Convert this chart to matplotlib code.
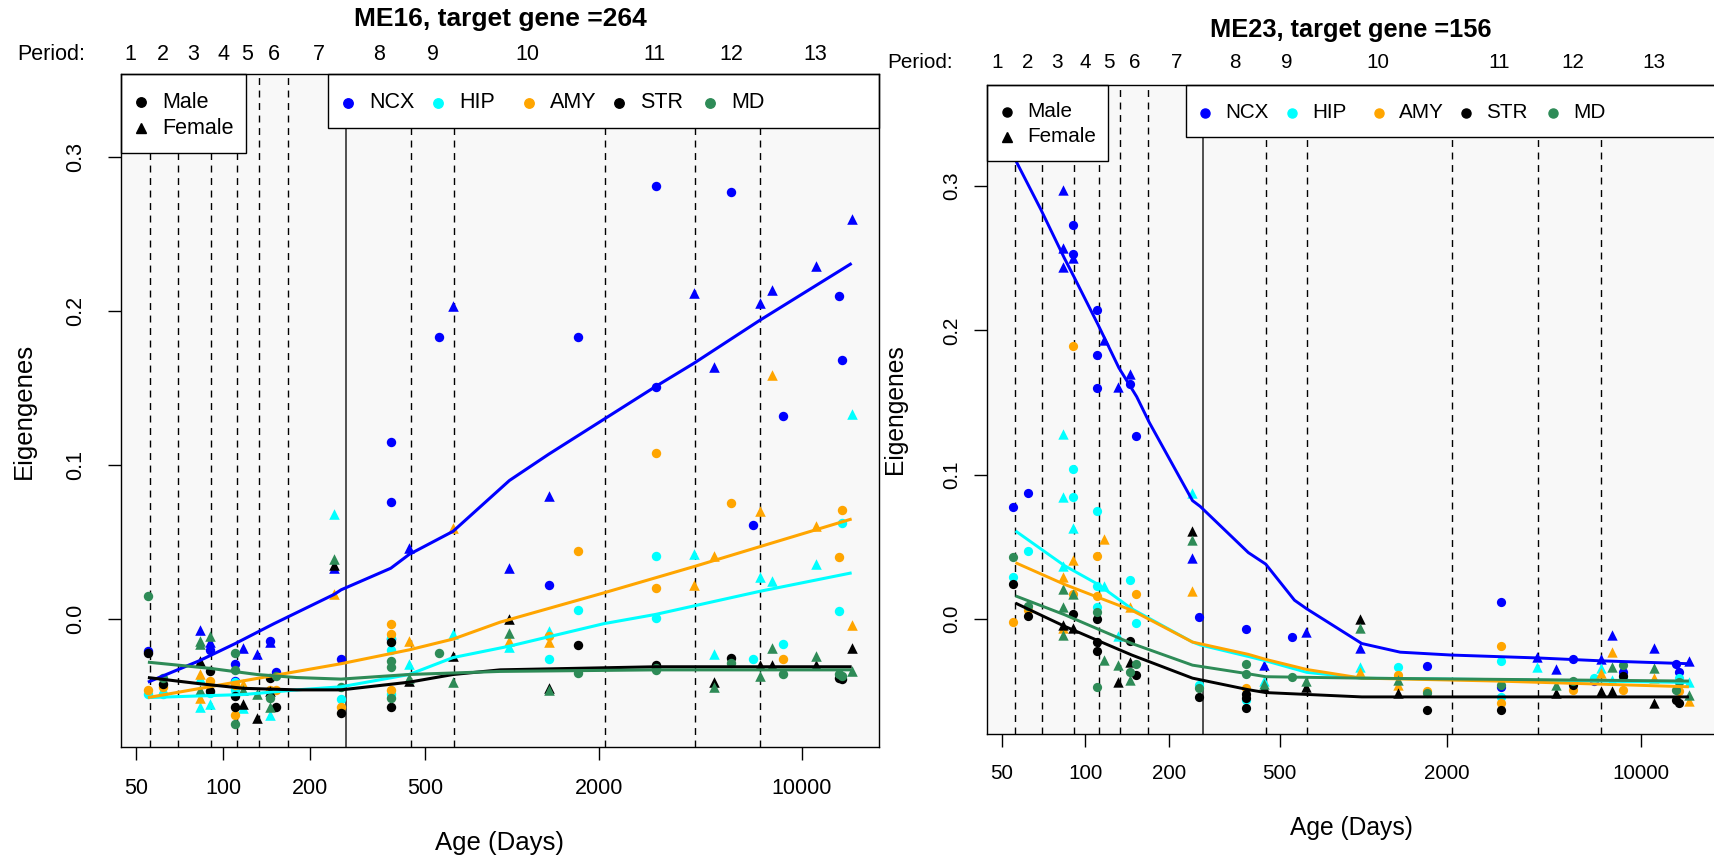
# Eigengene trajectories for two modules (ME16, ME23) across brain regions

import numpy as np
import matplotlib.pyplot as plt
from matplotlib.patches import Rectangle
from matplotlib.transforms import blended_transform_factory

plt.rcParams['font.family'] = ['Liberation Sans', 'DejaVu Sans']

nan = np.nan

regions = ['NCX', 'HIP', 'AMY', 'STR', 'MD']
region_colors = ['#0000FF', '#00FFFF', '#FFA500', '#000000', '#2E8B57']

# one entry per brain: age in days post conception and sex
ages = [55, 62, 83, 83, 83, 90, 90, 90, 110, 110, 110, 117, 131, 145, 145, 152,
        242, 256, 380, 380, 380, 440, 556, 624, 977, 1334, 1334, 1692, 3125, 3125,
        4230, 4960, 5680, 6770, 7160, 7870, 8600, 11170, 13420, 13740, 14880]
sex = ['M', 'M', 'F', 'F', 'F', 'M', 'M', 'F', 'M', 'M', 'M', 'F', 'F', 'M', 'F', 'M',
       'F', 'M', 'M', 'M', 'M', 'F', 'M', 'F', 'F', 'M', 'F', 'M', 'M', 'M',
       'F', 'F', 'M', 'M', 'F', 'F', 'M', 'F', 'M', 'M', 'F']

# ME16 eigengene values per region (nan = not shown)
me16_ncx = [-0.021, nan, -0.007, nan, nan, -0.020, nan, -0.015, -0.029, -0.040, nan, -0.019, -0.023, -0.014, -0.015, -0.0345,
            0.033, -0.026, 0.115, 0.076, -0.013, 0.046, 0.1835, 0.203, 0.033, 0.022, 0.080, 0.1835, 0.281, 0.151,
            0.212, 0.164, 0.2775, 0.061, 0.205, 0.214, 0.132, 0.229, 0.2095, 0.168, 0.260]
me16_hip = [-0.049, -0.049, -0.038, -0.057, nan, -0.048, nan, -0.055, -0.041, -0.046, nan, -0.058, nan, nan, -0.062, nan,
            0.068, -0.052, -0.012, -0.020, -0.049, -0.029, nan, -0.010, -0.018, -0.026, -0.008, 0.006, 0.041, 0.001,
            0.042, -0.023, nan, -0.026, 0.027, 0.025, -0.016, 0.0355, 0.005, 0.0625, 0.133]
me16_amy = [-0.046, -0.044, -0.036, -0.051, nan, -0.040, nan, nan, -0.043, -0.062, nan, -0.042, nan, -0.046, nan, -0.046,
            0.016, -0.057, -0.003, -0.010, -0.046, -0.014, nan, 0.059, -0.014, -0.011, -0.015, 0.044, 0.108, 0.020,
            0.022, 0.041, 0.0755, nan, 0.0705, 0.1585, -0.026, 0.0605, 0.040, 0.071, -0.004]
me16_str = [-0.022, -0.042, -0.027, nan, nan, -0.034, -0.047, nan, -0.050, -0.057, nan, -0.055, -0.064, -0.038, -0.047, -0.057,
            0.035, -0.061, -0.015, nan, -0.057, -0.040, nan, -0.024, 0.000, nan, -0.045, -0.017, -0.030, -0.031,
            nan, -0.041, -0.025, nan, -0.030, -0.030, nan, -0.030, -0.038, -0.039, -0.019]
me16_md = [0.015, -0.038, -0.014, -0.046, -0.016, nan, nan, -0.011, -0.022, -0.068, -0.033, -0.046, -0.049, -0.051, -0.057, -0.037,
           0.039, -0.044, -0.027, -0.031, -0.051, -0.038, -0.022, -0.041, -0.009, nan, -0.046, -0.035, -0.032, -0.033,
           nan, -0.044, -0.0285, nan, -0.037, -0.0185, -0.036, -0.024, -0.036, -0.037, -0.0335]

# ME23 eigengene values per region
me23_ncx = [0.0776, 0.0876, 0.297, 0.257, 0.244, 0.273, 0.253, 0.250, 0.214, 0.183, 0.160, 0.193, 0.161, 0.163, 0.170, 0.1265,
            0.042, 0.0015, -0.007, nan, nan, -0.032, -0.0126, -0.009, -0.020, nan, nan, -0.0326, 0.0116, -0.047,
            -0.026, -0.035, -0.028, -0.043, -0.028, -0.011, -0.037, -0.020, -0.031, -0.037, -0.029]
me23_hip = [0.029, 0.047, 0.1285, 0.0845, 0.037, 0.104, 0.0845, 0.063, 0.0745, 0.023, 0.008, 0.023, -0.012, 0.027, nan, -0.003,
            0.087, -0.046, nan, -0.056, nan, -0.043, nan, nan, -0.033, -0.033, nan, nan, -0.029, -0.054,
            -0.033, nan, nan, -0.041, -0.034, -0.042, -0.041, nan, nan, -0.041, -0.044]
me23_amy = [-0.002, 0.006, 0.029, -0.006, nan, 0.189, 0.017, 0.041, 0.0436, 0.016, nan, 0.0555, nan, nan, 0.008, 0.017,
            0.0196, nan, -0.048, nan, nan, nan, nan, nan, -0.0365, -0.039, -0.046, -0.050, -0.0185, -0.058,
            nan, nan, -0.049, nan, -0.0375, -0.023, -0.049, -0.041, nan, -0.050, -0.057]
me23_str = [0.024, 0.002, -0.004, nan, nan, 0.0035, nan, -0.006, 0.0003, -0.016, -0.022, nan, -0.044, -0.015, -0.030, -0.039,
            0.061, -0.054, -0.052, -0.055, -0.062, -0.047, nan, -0.047, 0.000, nan, -0.051, -0.063, nan, -0.063,
            nan, -0.051, -0.046, nan, -0.050, -0.050, -0.0395, -0.058, -0.056, -0.058, nan]
me23_md = [0.043, 0.009, 0.021, 0.008, -0.011, nan, nan, 0.017, 0.005, -0.047, nan, -0.0285, -0.032, -0.037, -0.0425, -0.031,
           0.055, -0.048, -0.031, -0.038, nan, -0.045, -0.040, -0.043, -0.0064, nan, -0.042, -0.051, -0.046, nan,
           nan, -0.0457, -0.043, nan, nan, -0.0335, -0.032, -0.034, -0.049, -0.044, -0.053]

# smoothed trend lines (age, value)
me16_ncx_fit = ([55, 83, 110, 150, 242, 256, 380, 440, 624, 977, 1334, 3125, 4230, 7160, 14880],
                [-0.041, -0.027, -0.016, -0.003, 0.016, 0.019, 0.033, 0.042, 0.057, 0.090, 0.107, 0.151, 0.166, 0.194, 0.231])
me16_hip_fit = ([55, 118, 180, 256, 440, 624, 977, 2070, 3125, 7160, 14880],
                [-0.051, -0.049, -0.046, -0.044, -0.036, -0.025, -0.0176, -0.003, 0.003, 0.018, 0.030])
me16_amy_fit = ([55, 256, 440, 624, 908, 2070, 4230, 7160, 14880],
                [-0.051, -0.029, -0.020, -0.013, -0.002, 0.017, 0.034, 0.047, 0.065])
me16_str_fit = ([55, 83, 118, 180, 256, 440, 624, 908, 3125, 14880],
                [-0.038, -0.042, -0.045, -0.046, -0.046, -0.041, -0.036, -0.033, -0.031, -0.031])
me16_md_fit = ([55, 90, 131, 180, 256, 440, 908, 3125, 14880],
               [-0.028, -0.032, -0.036, -0.038, -0.039, -0.036, -0.034, -0.033, -0.033])

me23_ncx_fit = ([56, 69, 84, 91, 111, 132, 153, 170, 243, 259, 386, 446, 566, 627, 989, 1360, 2080, 4255, 7190, 14900],
                [0.318, 0.284, 0.250, 0.237, 0.204, 0.174, 0.154, 0.136, 0.082, 0.078, 0.046, 0.038, 0.013, 0.007,
                 -0.017, -0.023, -0.025, -0.027, -0.029, -0.031])
me23_hip_fit = ([56, 84, 111, 147, 243, 259, 386, 446, 627, 989, 3000, 14900],
                [0.061, 0.037, 0.024, 0.007, -0.016, -0.018, -0.026, -0.029, -0.037, -0.041, -0.042, -0.044])
me23_amy_fit = ([56, 84, 111, 147, 243, 386, 446, 627, 989, 3000, 14900],
                [0.039, 0.024, 0.015, 0.006, -0.016, -0.0245, -0.028, -0.035, -0.041, -0.043, -0.047])
me23_str_fit = ([56, 84, 111, 147, 243, 386, 446, 989, 14900],
                [0.011, -0.005, -0.015, -0.025, -0.041, -0.049, -0.051, -0.054, -0.054])
me23_md_fit = ([56, 84, 111, 147, 243, 386, 446, 989, 14900],
               [0.016, 0.003, -0.007, -0.017, -0.032, -0.038, -0.040, -0.041, -0.043])

# developmental periods (days); birth drawn as a solid line
period_breaks = [56, 70, 91, 112, 133, 168, 448, 630, 2091, 4281, 7201]
birth_day = 266
period_names = [str(i) for i in range(1, 14)]
period_centers = [48, 62, 79, 100, 121, 150, 214, 346, 532, 1130, 3100, 5700, 11100]

x_ticks = [50, 100, 200, 500, 2000, 10000]
y_ticks = [0.0, 0.1, 0.2, 0.3]

FIG_W, FIG_H = 1715, 858
fig = plt.figure(figsize=(FIG_W / 100, FIG_H / 100), dpi=100)


def fx(x):
    return x / FIG_W


def fy(y):
    return 1 - y / FIG_H


def draw_panel(box, ylim, title, values, fits, s, title_y, period_y,
               ytick_pad, xtick_pad, ylab_x, xlab_y):
    x0, y0, x1, y1 = box
    ax = fig.add_axes([fx(x0), fy(y1), (x1 - x0) / FIG_W, (y1 - y0) / FIG_H])
    ax.set_facecolor('#F8F8F8')
    ax.set_xscale('log')
    ax.set_xlim(44.4, 18500)
    ax.set_ylim(*ylim)

    for b in period_breaks:
        ax.axvline(b, color='black', lw=1.0, linestyle=(0, (5, 4)), zorder=1)
    ax.axvline(birth_day, color='#222222', lw=1.1, zorder=1)

    age_arr = np.array(ages, dtype=float)
    male = np.array(sex) == 'M'
    for vals, col in zip(values, region_colors):
        v = np.array(vals, dtype=float)
        ax.scatter(age_arr[male], v[male], marker='o', s=46 * s, color=col, lw=0, zorder=3)
        ax.scatter(age_arr[~male], v[~male], marker='^', s=58 * s, color=col, lw=0, zorder=3)
    for (fa, fv), col in zip(fits, region_colors):
        ax.plot(fa, fv, color=col, lw=2.2 * s, zorder=4, solid_capstyle='butt')

    ax.set_xticks(x_ticks)
    ax.set_xticklabels([str(t) for t in x_ticks])
    ax.xaxis.set_minor_locator(plt.NullLocator())
    ax.set_yticks(y_ticks)
    ax.set_yticklabels([f'{t:.1f}' for t in y_ticks], rotation=90, va='center')
    ax.tick_params(direction='out', length=9.4 * s, width=1.0, labelsize=15.5 * s)
    ax.tick_params(axis='x', pad=xtick_pad)
    ax.tick_params(axis='y', pad=ytick_pad)
    for sp in ax.spines.values():
        sp.set_linewidth(1.0)
        sp.set_zorder(12)

    fs = 15.5 * s

    # sex key
    kw, kh = 125 * s, 79 * s
    ax.add_patch(Rectangle((fx(x0), fy(y0 + kh)), kw / FIG_W, kh / FIG_H,
                           transform=fig.transFigure, facecolor='white',
                           edgecolor='black', lw=1.0, zorder=10, clip_on=False))
    for label, mk, dy, ms in [('Male', 'o', 28, 6.8), ('Female', '^', 54, 7.6)]:
        ax.plot([fx(x0 + 20 * s)], [fy(y0 + dy * s)], marker=mk, ms=ms * s, color='black',
                lw=0, transform=fig.transFigure, zorder=11, clip_on=False)
        ax.text(fx(x0 + 41 * s), fy(y0 + dy * s), label, fontsize=fs, va='center', ha='left',
                transform=fig.transFigure, zorder=11, clip_on=False)

    # region key
    rx0, rh = x0 + 207 * s, 54 * s
    ax.add_patch(Rectangle((fx(rx0), fy(y0 + rh)), (x1 - rx0) / FIG_W, rh / FIG_H,
                           transform=fig.transFigure, facecolor='white',
                           edgecolor='black', lw=1.0, zorder=10, clip_on=False))
    for i, (name, col) in enumerate(zip(regions, region_colors)):
        mx = x0 + (227 + 90.5 * i) * s
        ax.plot([fx(mx)], [fy(y0 + 29 * s)], marker='o', ms=6.8 * s, color=col, lw=0,
                transform=fig.transFigure, zorder=11, clip_on=False)
        ax.text(fx(mx + 21 * s), fy(y0 + 29 * s), name, fontsize=fs, va='center', ha='left',
                transform=fig.transFigure, zorder=11, clip_on=False)

    # period numbers above the panel
    trans = blended_transform_factory(ax.transData, fig.transFigure)
    for c, name in zip(period_centers, period_names):
        ax.text(c, fy(period_y), name, transform=trans, ha='center', va='center',
                fontsize=fs, clip_on=False)
    fig.text(fx(x0 - 36 * s), fy(period_y), 'Period:', ha='right', va='center', fontsize=fs)

    fig.text(fx((x0 + x1) / 2), fy(title_y), title, ha='center', va='center',
             fontsize=19 * s, fontweight='bold')
    fig.text(fx(ylab_x), fy((y0 + y1) / 2), 'Eigengenes', rotation=90, ha='center',
             va='center', fontsize=18.5 * s)
    fig.text(fx((x0 + x1) / 2), fy(xlab_y), 'Age (Days)', ha='center', va='center',
             fontsize=18.5 * s)
    return ax


draw_panel((121, 74, 879, 747), (-0.0831, 0.354), 'ME16, target gene =264',
           [me16_ncx, me16_hip, me16_amy, me16_str, me16_md],
           [me16_ncx_fit, me16_hip_fit, me16_amy_fit, me16_str_fit, me16_md_fit],
           1.0, 19, 54, 15.4, 13.2, 24, 843)

draw_panel((987.5, 85, 1715, 734), (-0.0797, 0.370), 'ME23, target gene =156',
           [me23_ncx, me23_hip, me23_amy, me23_str, me23_md],
           [me23_ncx_fit, me23_hip_fit, me23_amy_fit, me23_str_fit, me23_md_fit],
           0.96, 30.5, 62.5, 9.8, 12.5, 895, 828)

fig.savefig('out.png', dpi=100)
